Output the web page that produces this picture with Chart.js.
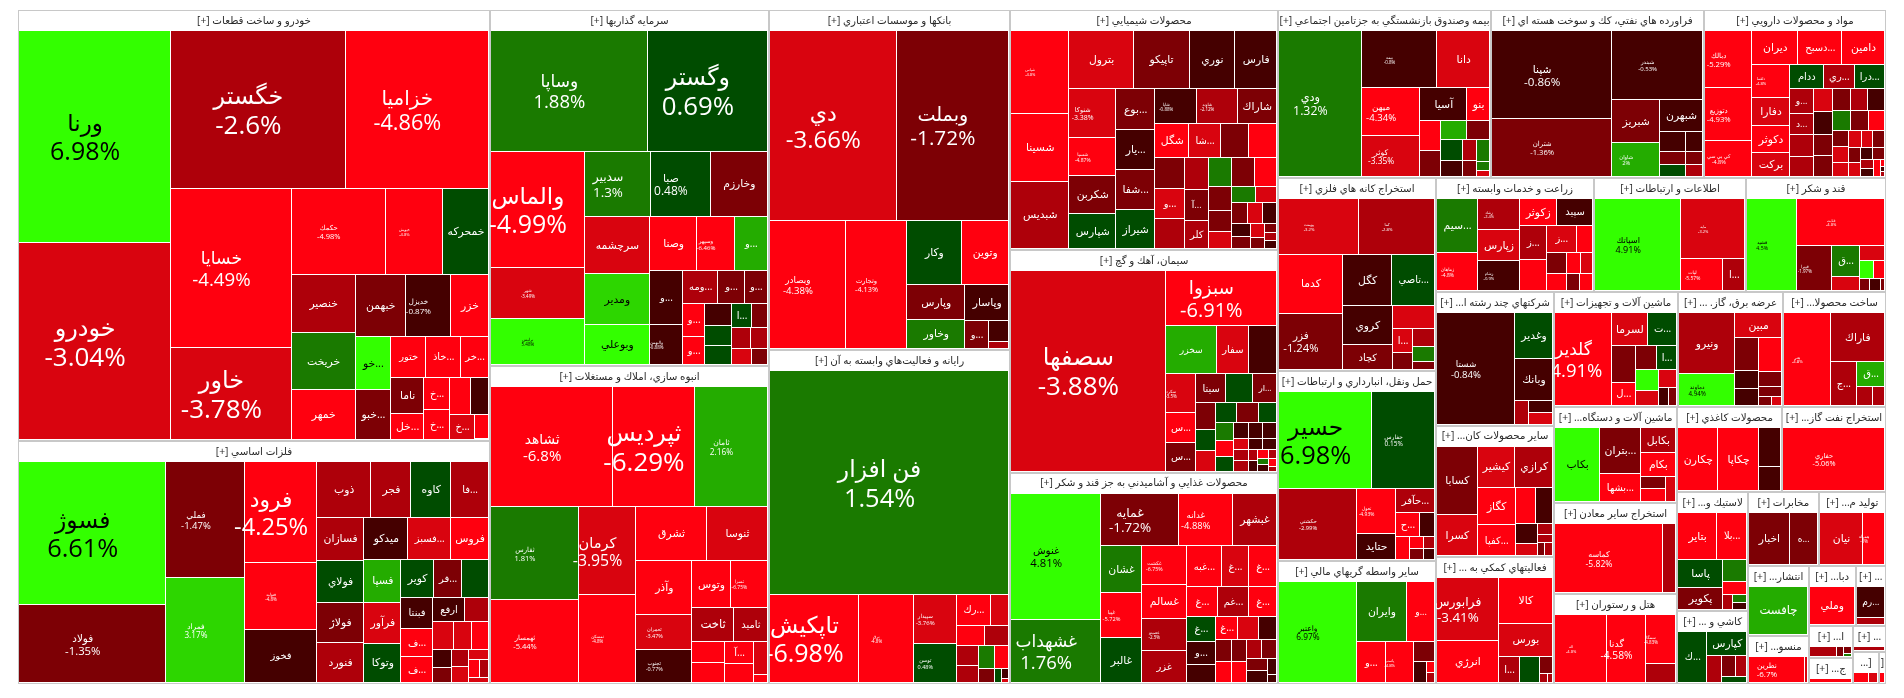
<!DOCTYPE html>
<html><head><meta charset="utf-8">
<style>html,body{margin:0;padding:0;background:#fff}canvas{display:block}</style>
<script src="https://cdn.jsdelivr.net/npm/chart.js@4"></script>
</head><body><canvas id="c" width="1904" height="698"></canvas>
<script>
const sectorNames=["خودرو و ساخت قطعات [+]","فلزات اساسي [+]","سرمايه گذاريها [+]","انبوه سازي، املاك و مستغلات [+]","بانكها و موسسات اعتباري [+]","رايانه و فعاليت‌هاي وابسته به آن [+]","محصولات شيميايي [+]","سيمان، آهك و گچ [+]","محصولات غذايي و آشاميدني به جز قند و شكر [+]","بيمه وصندوق بازنشستگي به جزتامين اجتماعي [+]","فراورده هاي نفتي، كك و سوخت هسته اي [+]","مواد و محصولات دارويي [+]","استخراج كانه هاي فلزي [+]","حمل ونقل، انبارداري و ارتباطات [+]","ساير واسطه گريهاي مالي [+]","زراعت و خدمات وابسته [+]","اطلاعات و ارتباطات [+]","قند و شكر [+]","شركتهاي چند رشته ا... [+]","ساير محصولات كان... [+]","فعاليتهاي كمكي به ... [+]","ماشين آلات و تجهيزات [+]","عرضه برق، گاز. ... [+]","ساخت محصولا... [+]","ماشين آلات و دستگاه... [+]","استخراج ساير معادن [+]","هتل و رستوران [+]","محصولات كاغذي [+]","استخراج نفت گاز... [+]","لاستيك و... [+]","كاشي و ... [+]","مخابرات [+]","توليد م... [+]","انتشار... [+]","منسو... [+]","دبا... [+]","... [+]","ا... [+]","ج... [+]","... [+]","[...","["];
const sectorValues=[203432,114696,99324,88722,81940,80494,64320,59630,56682,35784,35784,30576,30494,30020,19434,18012,17328,15960,15753,15517,14986,14260,12075,11845,11808,11193,11070,8925,8840,8449,5183,5224,4988,4235,2904,2820,1830,1408,1144,854,812,228];
// signed strip lengths: + a row across the remaining area, - a column down it
const sectorStrips=[-2,-2,-2,-3,3,-3,3,-3,3,-3,2,-2,2,-2,2,-2,1,-1,-1];

const cellNames=[
["ورنا","خودرو","خگستر","خزاميا","خسايا","خاور","حكمك","خپويش","خمحركه","خنصير","خريخت","خمهر","خبهمن","خديزل","خزر","خو...","خبو...","ختور","خاذ...","خر...","ناما","خل...","خ...","خ...","","","خ...","",""],
["فسوژ","فولاد","فملي","فمراد","فرود","فتوليد","فخوز","ذوب","فجر","كاوه","فا...","فسازان","فولاي","فولاژ","فنورد","ميدكو","فسبز...","فروس","فسپا","فرآور","وتوكا","كوير","فر...","","فبنتا","ف...","ف...","ارفع","","","","","","","","","","","",""],
["وساپا","وگستر","والماس","شهر","برليس","سدبير","صبا","وخارزم","سرچشمه","ومدير","وبوعلي","وصنا","وسپهر","و...","و...","والبهمن","ومه...","و...","و...","و...","و...","","","","ا...","","","","",""],
["ثشاهد","ثپرديس","ثامان","ثفارس","ثهمسار","كرمان","ثمسكن","ثشرق","ثنوسا","وآذر","ثعمران","ثجنوب","وتوس","ثسرا","ثاخت","ثاميد","","","آ...","","",""],
["دي","وبملت","وبصادر","وتجارت","وكار","وتوين","وپارس","وخاور","وپاسار","و...","",""],
["فن افزار","تاپكيش","برق","سپيدار","توسن","رك...","","","","","","","","","","",""],
["شپاس","شسينا","شبديس","بترول","تاپيكو","نوري","فارس","شنوكا","شسپا","شكربن","شپارس","بوع...","يار...","شفا...","شيراز","شاپا","شاوند","شاراك","شگل","شا...","","","","و...","","","آ...","كلر","","","","","","","","","","","","","","","","","",""],
["سصفها","سبزوا","سخزر","سفار","","سكرد","س...","س...","سيتا","","ار...","","","","","","","","","","","","","","","","","","","","","","","","",""],
["غنوش","غشهداب","غمايه","غدانه","غبشهر","غشان","غپيا","غالبر","غكشت","غسالم","غصينو","غزر","غبه...","غ...","غ...","غ...","غم...","غ...","غ...","و...","","غ...","","","","","","","","","","","",""],
["ودي","بيمه","دانا","ميهن","كوثر","آسيا","بنو","","","","","","","","","","",""],
["شپنا","شتران","شبندر","شبريز","شاوان","شبهرن","","","","","",""],
["دبالك","دتوزيع","كي بي سي","ديران","دسبح...","دامين","دلقما","دفارا","دكوثر","بركت","ددام","ري...","درا...","و...","د...","","","","","","","","","","","","","","","","","","","","","","","","","","","",""],
["پويمت","كما","كدما","فزر","كگل","تاصي...","كروي","كچاد","","ا...","","","",""],
["حسير","حفارس","حكشتي","تعول","حتايد","حآفر...","ح...","","","","","",""],
["واعتبر","وايران","و...","و...","پاسپ","","","",""],
["سيم...","زماهان","زشاد","زپارس","زشام","زكوثر","سپيد","ز...","","ز...","","","","","","",""],
["اسپاتك","مايه","لپات","ا..."],
["قشيد","قثابت","قپيرا","ق...","","","","","","",""],
["شستا","وغدير","وبانك","","",""],
["كسابا","كسرا","كيشير","كرازي","كگاز","كفپا...","","","","","","","",""],
["فرابورس","انرژي","كالا","بورس","ا...","","","",""],
["گلدير","لسرما","ت...","","ل...","","ا...","","","","",""],
["ونيرو","دماوند","مبين","","","","","","","",""],
["هنر","فاراك","ج...","ق...","",""],
["بكاب","بتران...","بشها...","بكابل","بكام","","",""],
["كماسه",""],
["اله","گدنا","سمگا",""],
["چكارن","چكاپا","",""],
["حفاري"],
["بتاير","بلا...","پاسا","پكوير","","","","",""],
["ك...","كپارس","","","",""],
["اخبار","ه..."],
["نيان","همراه"],
["چافست"],
["نطرين",""],
["وملي"],
["رم...",""],
["","","",""],
[""],
[""],
["",""],
[""]
];
const cellValues=[
[31650,29400,26970,22165,18880,10856,7990,4845,3910,3654,3528,3150,3050,2745,2318,1855,1750,1400,1400,1120,1152,832,832,780,740,666,600,336,14],
[20448,11088,8855,8008,7000,4620,3640,2970,2160,2160,2052,1974,1927,1880,1833,1760,1720,1520,1548,1440,1404,1221,1036,999,961,837,806,759,552,567,486,459,342,285,272,256,210,187,153,105],
[18290,14042,10556,4641,4186,4224,3776,3648,3591,3213,2520,2491,1961,1749,1728,1280,1120,832,736,704,616,567,540,486,456,384,378,357,300,240],
[14280,9520,8568,7912,7052,4872,4872,3692,3172,2970,1870,1815,1748,1702,1353,1122,672,640,616,532,448,112],
[23375,20757,9417,7611,3402,2961,1938,1653,1496,638,420,140],
[52360,7654,4717,2058,1638,1050,540,551,456,440,374,368,322,210,98,63,28],
[4536,3752,3696,3528,3080,2520,2296,2115,1665,1665,1530,1520,1482,1482,1444,1353,1320,1287,1089,1023,924,891,840,840,812,713,690,644,621,594,594,528,440,374,384,336,320,280,280,234,216,196,154,96,96,84],
[30000,5928,2397,1504,1316,1140,900,840,840,756,672,513,399,380,399,399,342,323,272,255,240,224,224,165,165,150,143,143,99,90,90,72,60,70,64,40],
[10788,5394,3850,2700,2200,1794,1716,1716,1672,1452,1364,1364,1365,1053,1092,868,868,784,700,616,504,484,440,396,352,320,308,280,270,270,252,231,144,72],
[11680,4180,2915,2736,2337,1504,736,600,520,468,414,441,336,294,224,273,104,78],
[10266,6726,6097,1978,1564,1290,500,325,300,340,221,204],
[2520,2340,1575,1440,1376,1344,1155,980,910,840,782,690,690,552,483,483,460,418,418,399,380,352,352,352,324,324,288,240,225,210,208,176,192,165,154,143,132,108,96,108,25,20,20],
[4266,4050,3596,3410,2450,2100,1862,1176,924,460,340,357,315,168],
[8740,5890,5396,1672,988,920,552,345,312,168,132,154,121],
[7524,2900,1624,1120,1080,396,273,88,72],
[2067,1443,1200,1200,1160,925,900,858,780,754,416,380,323,280,220,221,204],
[7735,3712,1312,672],
[4368,3915,1485,780,364,364,238,187,120,120,48],
[8360,1672,1558,312,288,264],
[2584,1520,1443,1443,1332,1080,680,578,400,240,150,120,91,91],
[3660,2460,2376,1674,540,486,221,63,45],
[4968,1116,899,828,529,483,460,460,322,306,162,144],
[3186,1674,1104,736,391,391,704,308,220,110,80],
[4095,2538,1100,644,285,228],
[3139,1755,1053,828,792,300,300,250],
[7208,884],
[3350,2479,1410,540],
[2542,2542,874,529],
[6076],
[1755,1350,1188,968,500,300,144,112,98],
[1400,902,378,260,220,150],
[1950,1350],
[2100,1050],
[2200],
[1350,75],
[1600],
[812,196],
[225,63,40,24],
[225],
[100],
[100,60],
[30]
];
const cellChange=[
[6.98,-3.04,-2.6,-4.86,-4.49,-3.78,-4.98,-4.8,0.6,-2.5,1.5,-5,-1.5,-0.87,-5,5,-1.5,-5,-5,-5,-1.5,-5,-5,-5,-5,-0.8,-3.5,-5,-3],
[6.61,-1.35,-1.47,3.17,-4.25,-4.8,-0.8,-2.5,-2.5,0.5,-2.5,-2.5,0.5,-1.5,-2.5,-0.8,-3.5,-5,2.5,-3.5,0.5,0.5,-1.5,0.5,-0.8,-5,-5,-0.8,-2.5,-3.5,-3.5,-5,-0.8,-1.5,-2.5,-3.5,-3.5,-5,-2.5,-3.5],
[1.88,0.69,-4.99,-3.49,5.48,1.3,0.48,-1.5,-3.5,3.9,5,-5,-6.46,2.5,-0.8,-0.88,-2.5,-1.5,-1.5,-5,-5,-0.8,0.5,0.5,0.5,-1.5,-2.5,-2.5,-3.5,-1.5],
[-6.8,-6.29,2.16,1.81,-5.44,-3.95,-4.8,-5,-3.5,-5,-3.47,-0.77,-5,-6.75,-2.5,-2.5,-5,-5,-5,-5,-3.5,-5],
[-3.66,-1.72,-4.38,-4.13,0.5,-5,-1.5,1.5,-0.8,-1.5,-0.8,-2.5],
[1.54,-6.98,-4.8,-3.76,0.48,-5,-3.5,-5,-2.5,-2.5,-2.5,1.5,-5,-1.5,0.5,-0.8,-3.5],
[-4.8,-5,-2.5,-3.5,-1.5,-0.8,-0.8,-3.38,-4.87,-1.5,0.5,-1.5,-0.8,-1.5,0.5,-0.88,-2.12,-1.5,-5,-3.5,-1.5,-5,-1.5,-3.5,-2.5,-2.5,-1.5,-2.5,1.5,-1.5,-5,-1.5,-1.5,-3.5,1.5,-3.5,-1.5,-3.5,-0.8,-0.8,-1.5,-3.5,-1.5,-1.5,-2.5,-0.8],
[-3.88,-6.91,2.5,-3.5,-0.8,-3.5,-5,-1.5,-1.5,0.5,-1.5,-1.5,0.5,-3.5,0.5,-1.5,0.5,1.5,-5,0.5,-0.8,-0.8,-0.8,-3.5,-2.5,-2.5,-0.8,-0.8,-2.5,-0.8,-5,-2.5,1.5,-0.8,-5,-2.5],
[4.81,1.76,-1.72,-4.88,-2.5,1.5,-5.72,0.5,-6.75,-5,-2.5,-2.5,-5,-3.5,-5,-5,-2.5,-5,0.5,-0.8,-0.8,-5,-3.5,-0.8,-1.5,-5,-1.5,-5,-2.5,-1.5,-1.5,-0.8,-0.8,-0.8],
[1.32,-0.8,-3.5,-4.34,-3.35,-0.8,-5,-5,-1.5,2.5,-1.5,0.5,-0.8,-2.5,-1.5,1.5,1.5,-3],
[-0.86,-1.36,-0.53,-1.5,2,-0.8,-0.8,-1.5,0.5,-0.8,-1.5,-2.5],
[-5.29,-4.93,-4.8,-5,-5,-5,-4.8,-3.5,-5,-3.5,0.5,-2.5,0.5,-2.5,-2.5,-2.5,-2.5,-3.5,-0.8,-1.5,-1.5,-1.5,-2.5,-0.8,1.5,-1.5,-5,-1.5,-3,-3.5,-3.5,-3.5,-1.5,-1.5,-3.5,-0.8,-1.5,-2.5,-0.8,-5,-5,-0.8,-2.5],
[-3.2,-2.8,-5,-1.24,-0.8,0.5,-0.8,-1.5,-3.5,-3.5,-1.5,-2.5,1.5,-1.5],
[6.98,0.15,-2.99,-4.93,-0.8,-2.5,-5,-0.8,-5,-5,-2.5,-1.5,-0.8],
[6.97,1.5,-5,-5,-4.8,-1.5,-0.8,-5,-2.5],
[1.5,-4.8,-2.4,-3.5,-0.9,-5,-0.8,-2.5,-5,-3.5,-5,-1.5,-5,-5,-3.5,-1.5,-5],
[4.91,-3.2,-5.57,-2.5],
[4.5,-4.8,-1.97,1.5,-3.5,-3.5,5,-5,-1.5,-0.8,-1.5],
[-0.84,0.5,-0.8,-2.5,-0.8,-3.5],
[-1.5,-3.5,-3.5,-2.5,-5,-5,-5,-0.8,-0.8,-3.5,-2.5,-2.5,-1.5,-2.5],
[-3.41,-5,-5,-3.5,-2.5,0.5,-1.5,-2.5,-2.5],
[-4.91,-3.5,0.5,-1.5,-5,-1.5,0.5,5,-3.5,-3.5,-0.8,-1.5],
[-2.5,4.94,-3.5,-1.5,-0.8,-0.8,-5,-1.5,-1.5,-1.5,-3.5],
[-4.8,-2.5,-2.5,2.5,-2.5,-2.5],
[5,-1.5,-5,-2.5,-5,-1.5,-5,-3.5],
[-5.82,-2.5],
[-4.8,-4.58,-4.83,-2.5],
[-5,-5,-0.8,-0.8],
[-5.06],
[-5,-5,0.5,-1.5,1.5,-5,-2.5,1.5,-0.8],
[0.5,0.5,-2.5,-1.5,-2.5,0.5],
[-1.5,-1.5],
[-3.5,-5],
[2.5],
[-6.7,-3.5],
[-5],
[-0.8,-2.5],
[-2.5,-1.5,-1.5,1.5],
[-5],
[-2.5],
[-5,-3.5],
[-5]
];
// label font size; 0 = no label, negative = ticker only, positive = ticker and change
const labelSizes=[
[25,26,26,21.7,18.7,26,7.5,4,-13,-13,-13,-13,-13,8,-13,-13,-13,-12,-12,-12,-13,-13,-12,-12,0,0,-12,0,0],
[25.4,11.3,9.5,8.2,23.7,4.5,-12,-13,-13,-13,-12,-13,-13,-13,-13,-13,-12,-13,-13,-13,-13,-13,-12,0,-12,-12,-12,-12,0,0,0,0,0,0,0,0,0,0,0,0],
[18.5,25.8,25,4.5,4.5,13.4,12,-13,-13,-13,-13,-13,6,-12,-12,4.5,-12,-12,-12,-12,-12,0,0,0,-12,0,0,0,0,0],
[15,26,8.3,7.5,7.5,15.8,4.5,-13,-13,-13,5.5,5.5,-13,5,-14,-12,0,0,-12,0,0,0],
[24,20.8,9.6,7.3,-13,-13,-13,-13,-13,-12,0,0],
[25.4,25,4.5,6,5.5,-12,0,0,0,0,0,0,0,0,0,0,0],
[4,-13,-13,-13,-13,-13,-13,7,5,-13,-13,-13,-13,-13,-13,4.5,4.5,-13,-13,-12,0,0,0,-12,0,0,-11,-12,0,0,0,0,0,0,0,0,0,0,0,0,0,0,0,0,0,0],
[26,20,-11,-12,0,4.5,-12,-12,-12,0,-10,0,0,0,0,0,0,0,0,0,0,0,0,0,0,0,0,0,0,0,0,0,0,0,0,0],
[11.3,18.5,13.5,9.4,-13,-13,5.7,-13,5.3,-13,4.5,-12,-12,-12,-12,-12,-12,-12,-12,-12,0,-12,0,0,0,0,0,0,0,0,0,0,0,0],
[12.3,4.5,-13,9.6,8.4,-13,-13,0,0,0,0,0,0,0,0,0,0,0],
[11.6,7.6,6,-13,5.7,-13,0,0,0,0,0,0],
[7.7,7.7,5.5,-13,-12,-13,4.2,-13,-13,-13,-12,-12,-12,-11,-11,0,0,0,0,0,0,0,0,0,0,0,0,0,0,0,0,0,0,0,0,0,0,0,0,0,0,0,0],
[4.2,4.2,-13,11.3,-13,-12,-13,-12,0,-12,0,0,0,0],
[25.4,6.5,5.8,5,-13,-12,-12,0,0,0,0,0,0],
[8.3,-13,-11,-12,4.2,0,0,0,0],
[-13,5,4,-13,4.2,-13,-12,-12,0,-12,0,0,0,0,0,0,0],
[9,4,5,-12],
[5.2,4,4.5,-12,0,0,0,0,0,0,0],
[9.6,-13,-13,0,0,0],
[-13,-13,-13,-13,-13,-12,0,0,0,0,0,0,0,0],
[13.4,-13,-13,-13,-12,0,0,0,0],
[18.5,-13,-12,0,-12,0,-12,0,0,0,0,0],
[-13,6.2,-13,0,0,0,0,0,0,0,0],
[4.2,-13,-12,-12,0,0],
[-13,-13,-12,-13,-13,0,0,0],
[8.6,0],
[4,10.3,4.5,0],
[-13,-13,0,0],
[7.3],
[-13,-12,-13,-13,0,0,0,0,0],
[-12,-13,0,0,0,0],
[-13,-11],
[-13,4.5],
[-14],
[8,0],
[-13],
[-11,0],
[0,0,0,0],
[0],
[0],
[0,0],
[0]
];
const cellStrips=[
[-2,2,-2,3,-3,3,-2,3,-2,-2,2,-1,1,1],
[-2,-2,-3,4,-4,3,-3,3,-3,2,3,-2,-2,1,2,1],
[2,-3,3,-3,3,-2,3,-2,-3,2,2,-1,1],
[3,-2,-2,2,-3,2,2,-2,-2,1,1],
[2,-1,-1,2,-2,1,-1,1,1],
[1,-1,-1,-2,2,2,-2,2,-1,-1,1,1],
[-3,4,-4,-4,3,4,-3,-3,3,-3,2,3,-2,-2,1,1,1],
[-1,1,3,-3,3,-3,3,-3,3,-3,2,-2,2,-2,-2],
[-2,3,-3,-4,3,3,-3,3,-2,-2,2,-2,1,1],
[-1,2,-2,2,-2,2,-2,-2,1,1,1],
[-2,1,-2,1,-3,-3],
[-3,3,-4,3,-4,-4,3,3,-3,3,-2,2,-2,-1,1,1,1],
[2,-2,2,-2,1,-2,-3],
[2,-1,-2,1,2,-1,2,2],
[-1,2,-1,-1,1,-1,1,1],
[-2,-3,2,-2,2,-2,2,2],
[-1,1,-1,-1],
[-1,1,-1,-2,1,2,3],
[-1,1,1,-1,1,1],
[-2,2,-2,2,-2,1,1,2],
[-2,1,1,-1,-1,1,2],
[-1,2,-2,2,-2,1,-1,-1],
[-2,1,-3,1,1,1,2],
[-1,1,-1,1,2],
[-1,-2,1,1,-2,-1],
[-1,-1],
[-1,-1,1,1],
[-1,-1,1,1],
[1],
[2,-2,1,1,-1,1,1],
[-1,1,-1,2,1],
[-1,-1],
[-1,-1],
[1],
[-1,-1],
[1],
[1,1],
[-1,-1,1,1],
[1],
[1],
[-1,-1],
[1]
];

const FONT='"Open Sans","DejaVu Sans",sans-serif';
const TITLE_H=21, INSET=1;
function colourOf(p){
  if(p>=4)return'#33ff00'; if(p>=3)return'#2dd600'; if(p>=2)return'#24ac00'; if(p>=1)return'#1a7a00'; if(p>=0)return'#004c00';
  if(p>-1)return'#450000'; if(p>-2)return'#7d0005'; if(p>-3)return'#ae000a'; if(p>-4)return'#d9040f'; return'#ff000f';
}
function layout(values,strips,rect){
  let {x,y,w,h}=rect, i=0, rest=values.reduce((a,b)=>a+b,0); const out=[];
  for(let s=0;s<strips.length&&i<values.length;s++){
    const n=Math.abs(strips[s]), part=values.slice(i,i+n), sum=part.reduce((a,b)=>a+b,0), share=sum/rest;
    let pos=0;
    if(strips[s]>0){ const t=h*share;
      part.forEach(v=>{const cw=w*v/sum; out.push({x:x+pos,y,w:cw,h:t}); pos+=cw;}); y+=t; h-=t;
    } else { const t=w*share;
      part.forEach(v=>{const ch=h*v/sum; out.push({x,y:y+pos,w:t,h:ch}); pos+=ch;}); x+=t; w-=t;
    }
    i+=n; rest-=sum;
  }
  return out;
}

const problems=[];
cellValues.forEach((v,k)=>{
  const n=v.length, st=cellStrips[k].reduce((a,b)=>a+Math.abs(b),0);
  if(cellNames[k].length!==n||cellChange[k].length!==n||labelSizes[k].length!==n||st!==n)
    problems.push(k+':n'+cellNames[k].length+',v'+n+',c'+cellChange[k].length+',s'+labelSizes[k].length+',t'+st);
});
if(problems.length) throw new Error(problems.join(' | '));

const W=1868,H=674;
const sectors=layout(sectorValues,sectorStrips,{x:0,y:0,w:W,h:H});
const cells=[];
sectors.forEach((s,k)=>{
  s.name=sectorNames[k];
  const inner={x:s.x+INSET,y:s.y+TITLE_H,w:Math.max(1,s.w-2*INSET),h:Math.max(1,s.h-TITLE_H-INSET)};
  layout(cellValues[k],cellStrips[k],inner).forEach((r,i)=>{
    cells.push({...r,sector:k,name:cellNames[k][i],change:cellChange[k][i],size:labelSizes[k][i]});
  });
});

class TreemapController extends Chart.DatasetController{
  update(mode){const m=this._cachedMeta;this.updateElements(m.data,0,m.data.length,mode);}
  updateElements(rects,start,count,mode){
    const {xScale,yScale}=this._cachedMeta, ds=this.getDataset(), gap=ds.gap||0;
    for(let i=start;i<start+count;i++){
      const d=ds.data[i];
      const l=Math.round(xScale.getPixelForValue(d.x)), r=Math.round(xScale.getPixelForValue(d.x+d.w))-gap;
      const t=Math.round(yScale.getPixelForValue(d.y)), b=Math.round(yScale.getPixelForValue(d.y+d.h))-gap;
      this.updateElement(rects[i],i,{x:(l+r)/2,y:t,base:b,width:r-l,height:b-t,horizontal:false,inflateAmount:0,enableBorderRadius:false,
        borderSkipped:{top:false,bottom:false,left:false,right:false},options:this.resolveDataElementOptions(i,mode)},mode);
    }
  }
  draw(){const ctx=this._ctx;this._cachedMeta.data.forEach(e=>e.draw(ctx));}
}
TreemapController.id='treemap';
TreemapController.defaults={dataElementType:'bar'};
TreemapController.overrides={scales:{x:{type:'linear'},y:{type:'linear'}}};
Chart.register(TreemapController);

const labelPlugin={id:'labels',afterDatasetsDraw(chart){
  const ctx=chart.ctx,X=chart.scales.x,Y=chart.scales.y;
  ctx.save();
  ctx.textAlign='center';ctx.textBaseline='middle';
  sectors.forEach(s=>{
    const l=X.getPixelForValue(s.x),t=Y.getPixelForValue(s.y),r=X.getPixelForValue(s.x+s.w),b=Y.getPixelForValue(s.y+s.h);
    ctx.save();ctx.beginPath();ctx.rect(l,t,r-l,b-t);ctx.clip();
    ctx.direction='rtl';ctx.fillStyle='#2a2a2a';ctx.font='10.3px '+FONT;
    ctx.fillText(s.name,(l+r)/2,t+11);
    ctx.restore();
  });
  ctx.direction='ltr';
  cells.forEach(c=>{
    if(!c.size||!c.name)return;
    const s=sectors[c.sector];
    const sl=X.getPixelForValue(s.x),st=Y.getPixelForValue(s.y),sr=X.getPixelForValue(s.x+s.w),sb=Y.getPixelForValue(s.y+s.h);
    ctx.save();ctx.beginPath();ctx.rect(sl,st,sr-sl,sb-st);ctx.clip();
    const cx=X.getPixelForValue(c.x+c.w/2),cy=Y.getPixelForValue(c.y+c.h/2);
    ctx.fillStyle=c.change>=3.5?'#000':'#fff';
    const size=Math.abs(c.size);
    if(c.size>0){
      const lh=size*1.13;
      ctx.font=(size*0.92)+'px '+FONT;
      ctx.fillText(c.name,cx-10,cy-lh/2+size*0.08);
      ctx.font=size+'px '+FONT;
      ctx.fillText(c.change+'%',cx-10,cy+lh/2+size*0.08);
    } else {
      ctx.font=(size*0.83)+'px '+FONT;
      ctx.fillText(c.name,cx,cy);
    }
    ctx.restore();
  });
  ctx.restore();
}};

new Chart(document.getElementById('c'),{
  type:'treemap',
  data:{datasets:[
    {data:cells,gap:1,backgroundColor:c=>colourOf(c.raw.change),borderWidth:0},
    {data:sectors,gap:0,backgroundColor:'#ffffff',borderColor:'#c8c8c8',borderWidth:1}
  ]},
  options:{responsive:false,animation:false,events:[],
    layout:{padding:{left:18,top:10,right:18,bottom:14}},
    plugins:{legend:{display:false},tooltip:{enabled:false},title:{display:false}},
    scales:{x:{type:'linear',display:false,min:0,max:W},y:{type:'linear',display:false,min:0,max:H,reverse:true}}
  },
  plugins:[labelPlugin]
});
</script></body></html>
